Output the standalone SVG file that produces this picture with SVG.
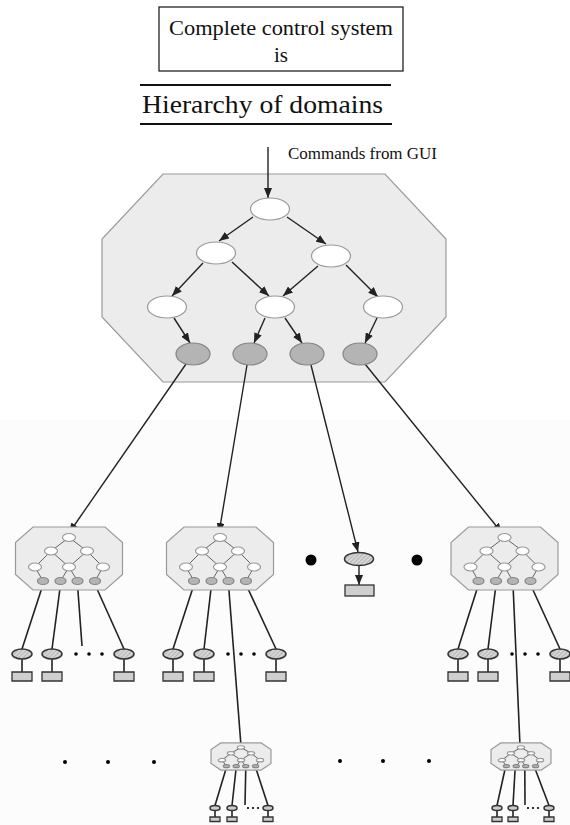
<svg xmlns="http://www.w3.org/2000/svg" xmlns:xlink="http://www.w3.org/1999/xlink" width="570" height="825" viewBox="0 0 570 825">
<style>
.t{font-family:"Liberation Serif","Times New Roman",serif;fill:#111}
.oct{fill:#ececec;stroke:#9a9a9a;stroke-width:1.2}
.wn{fill:#fff;stroke:#9a9a9a;stroke-width:1.2}
.gn{fill:#b4b4b4;stroke:#858585;stroke-width:1.2}
.ar{stroke:#222;stroke-width:1.4;fill:none;marker-end:url(#ah)}
.ln{stroke:#222;stroke-width:1.6;fill:none}
.il{stroke:#555;stroke-width:0.9;fill:none}
.hn{fill:url(#hatch);stroke:#333;stroke-width:1.5}
.bx{fill:#cfcfcf;stroke:#333;stroke-width:1.3}
.dot{fill:#000}
</style>
<defs>
<marker id="ah" markerUnits="userSpaceOnUse" markerWidth="10" markerHeight="8" refX="10" refY="4" orient="auto">
<path d="M0,0 L10,4 L0,8 z" fill="#222"/>
</marker>
<pattern id="hatch" patternUnits="userSpaceOnUse" width="3" height="3" patternTransform="rotate(45)">
<rect width="3" height="3" fill="#d6d6d6"/>
<line x1="0" y1="0" x2="0" y2="3" stroke="#9d9d9d" stroke-width="1.2"/>
</pattern>
<g id="sd">
<polygon class="oct" vector-effect="non-scaling-stroke" points="-36,-31.5 36,-31.5 53.5,-16 53.5,16 36,31.5 -36,31.5 -53.5,16 -53.5,-16"/>
<g class="il">
<line vector-effect="non-scaling-stroke" x1="0" y1="-21" x2="-18" y2="-7.5"/>
<line vector-effect="non-scaling-stroke" x1="0" y1="-21" x2="18" y2="-7.5"/>
<line vector-effect="non-scaling-stroke" x1="-18" y1="-7.5" x2="-34" y2="8.5"/>
<line vector-effect="non-scaling-stroke" x1="-18" y1="-7.5" x2="0" y2="8.5"/>
<line vector-effect="non-scaling-stroke" x1="18" y1="-7.5" x2="0" y2="8.5"/>
<line vector-effect="non-scaling-stroke" x1="18" y1="-7.5" x2="34" y2="8.5"/>
<line vector-effect="non-scaling-stroke" x1="-34" y1="8.5" x2="-26" y2="22.5"/>
<line vector-effect="non-scaling-stroke" x1="0" y1="8.5" x2="-8.5" y2="22.5"/>
<line vector-effect="non-scaling-stroke" x1="0" y1="8.5" x2="8.5" y2="22.5"/>
<line vector-effect="non-scaling-stroke" x1="34" y1="8.5" x2="26" y2="22.5"/>
</g>
<ellipse class="wn" vector-effect="non-scaling-stroke" cx="0" cy="-21" rx="6.5" ry="4"/>
<ellipse class="wn" vector-effect="non-scaling-stroke" cx="-18" cy="-7.5" rx="6.5" ry="4"/>
<ellipse class="wn" vector-effect="non-scaling-stroke" cx="18" cy="-7.5" rx="6.5" ry="4"/>
<ellipse class="wn" vector-effect="non-scaling-stroke" cx="-34" cy="8.5" rx="6.5" ry="4"/>
<ellipse class="wn" vector-effect="non-scaling-stroke" cx="0" cy="8.5" rx="6.5" ry="4"/>
<ellipse class="wn" vector-effect="non-scaling-stroke" cx="34" cy="8.5" rx="6.5" ry="4"/>
<ellipse class="gn" vector-effect="non-scaling-stroke" cx="-26" cy="22.5" rx="5.5" ry="3.5"/>
<ellipse class="gn" vector-effect="non-scaling-stroke" cx="-8.5" cy="22.5" rx="5.5" ry="3.5"/>
<ellipse class="gn" vector-effect="non-scaling-stroke" cx="8.5" cy="22.5" rx="5.5" ry="3.5"/>
<ellipse class="gn" vector-effect="non-scaling-stroke" cx="26" cy="22.5" rx="5.5" ry="3.5"/>
</g>
<g id="leaf">
<line class="ln" vector-effect="non-scaling-stroke" x1="0" y1="5" x2="0" y2="18"/>
<ellipse class="hn" vector-effect="non-scaling-stroke" cx="0" cy="0" rx="10" ry="5"/>
<rect class="bx" vector-effect="non-scaling-stroke" x="-10" y="18" width="20" height="9"/>
</g>
</defs>
<rect x="0" y="0" width="570" height="825" fill="#fff"/>
<rect x="0" y="420" width="570" height="405" fill="#fcfcfc"/>

<g id="title">
<rect x="159" y="7" width="244" height="64" fill="#fff" stroke="#222" stroke-width="1.3"/>
<text class="t" x="281" y="35" font-size="21" text-anchor="middle" textLength="224" lengthAdjust="spacingAndGlyphs">Complete control system</text>
<text class="t" x="281" y="62" font-size="21" text-anchor="middle">is</text>
</g>
<g id="heading">
<line x1="140" y1="85" x2="391" y2="85" stroke="#111" stroke-width="2"/>
<text class="t" x="142" y="113" font-size="26" textLength="241" lengthAdjust="spacingAndGlyphs">Hierarchy of domains</text>
<line x1="140" y1="124" x2="392" y2="124" stroke="#111" stroke-width="2"/>
</g>
<g id="gui-label">
<text class="t" x="288" y="159" font-size="16.5" textLength="149" lengthAdjust="spacingAndGlyphs">Commands from GUI</text>
</g>

<g id="main-domain">
<polygon class="oct" points="163,174 385,174 446,239 446,317 385,382 163,382 102,317 102,239"/>
</g>

<g id="connectors">
<line class="ar" x1="268" y1="147" x2="268" y2="198"/>
<line class="ar" x1="253" y1="217" x2="219" y2="241"/>
<line class="ar" x1="287" y1="217" x2="326" y2="244"/>
<line class="ar" x1="203" y1="263" x2="172" y2="296"/>
<line class="ar" x1="232" y1="262" x2="269" y2="296"/>
<line class="ar" x1="318" y1="266" x2="283" y2="296"/>
<line class="ar" x1="346" y1="265" x2="378" y2="297"/>
<line class="ar" x1="174" y1="318" x2="190" y2="343"/>
<line class="ar" x1="265" y1="318" x2="254" y2="343"/>
<line class="ar" x1="285" y1="318" x2="302" y2="343"/>
<line class="ar" x1="377" y1="318" x2="365" y2="343"/>
<line class="ar" x1="186" y1="364" x2="69" y2="533"/>
<line class="ar" x1="247" y1="365" x2="219" y2="533"/>
<line class="ar" x1="311" y1="365" x2="358" y2="552"/>
<line class="ar" x1="365" y1="364" x2="502" y2="533"/>
<line class="ar" x1="359" y1="566" x2="359" y2="585"/>
<line class="ln" x1="43" y1="584.5" x2="22" y2="649"/>
<line class="ln" x1="60.5" y1="584.5" x2="52" y2="649"/>
<line class="ln" x1="77.5" y1="584.5" x2="82" y2="646"/>
<line class="ln" x1="95" y1="584.5" x2="124" y2="649"/>
<line class="ln" x1="194" y1="584.5" x2="173" y2="649"/>
<line class="ln" x1="211.5" y1="584.5" x2="204" y2="649"/>
<line class="ln" x1="228.5" y1="584.5" x2="241" y2="746"/>
<line class="ln" x1="246" y1="584.5" x2="276" y2="649"/>
<line class="ln" x1="478.5" y1="584.5" x2="458" y2="649"/>
<line class="ln" x1="496" y1="584.5" x2="488" y2="649"/>
<line class="ln" x1="513" y1="584.5" x2="520" y2="746"/>
<line class="ln" x1="530.5" y1="584.5" x2="560" y2="649"/>
<line class="ln" x1="226.4" y1="767.5" x2="215" y2="805.5"/>
<line class="ln" x1="236.2" y1="767.5" x2="232" y2="805.5"/>
<line class="ln" x1="245.8" y1="767.5" x2="245" y2="805"/>
<line class="ln" x1="255.6" y1="767.5" x2="268" y2="805.5"/>
<line class="ln" x1="505.4" y1="767.5" x2="497" y2="805.5"/>
<line class="ln" x1="515.2" y1="767.5" x2="513" y2="805.5"/>
<line class="ln" x1="524.8" y1="767.5" x2="525" y2="805"/>
<line class="ln" x1="534.6" y1="767.5" x2="549" y2="805.5"/>
</g>

<g id="n-top"><ellipse class="wn" cx="270" cy="209" rx="19.5" ry="11"/></g>
<g id="n-l2a"><ellipse class="wn" cx="216" cy="253" rx="19.5" ry="11"/></g>
<g id="n-l2b"><ellipse class="wn" cx="331" cy="256" rx="19.5" ry="11"/></g>
<g id="n-l3a"><ellipse class="wn" cx="167" cy="307" rx="19.5" ry="11"/></g>
<g id="n-l3b"><ellipse class="wn" cx="275" cy="307" rx="19.5" ry="11"/></g>
<g id="n-l3c"><ellipse class="wn" cx="383" cy="307" rx="19.5" ry="11"/></g>
<g id="n-g1"><ellipse class="gn" cx="193" cy="354" rx="17" ry="11"/></g>
<g id="n-g2"><ellipse class="gn" cx="250" cy="354" rx="17" ry="11"/></g>
<g id="n-g3"><ellipse class="gn" cx="307" cy="354" rx="17" ry="11"/></g>
<g id="n-g4"><ellipse class="gn" cx="360" cy="354" rx="17" ry="11"/></g>

<g id="sub-domain-1"><use xlink:href="#sd" href="#sd" transform="translate(69,558.5)"/></g>
<g id="sub-domain-2"><use xlink:href="#sd" href="#sd" transform="translate(220,558.5)"/></g>
<g id="sub-domain-4"><use xlink:href="#sd" href="#sd" transform="translate(504.5,558.5)"/></g>
<g id="tiny-domain-1"><use xlink:href="#sd" href="#sd" transform="translate(241,756.5) scale(0.56,0.43)"/></g>
<g id="tiny-domain-2"><use xlink:href="#sd" href="#sd" transform="translate(521,756.5) scale(0.56,0.43)"/></g>

<g id="single-device">
<ellipse class="hn" cx="359" cy="559" rx="14.5" ry="6.5"/>
<rect class="bx" x="345" y="585" width="29" height="11"/>
</g>

<g id="leaves">
<use xlink:href="#leaf" href="#leaf" transform="translate(22,654)"/>
<use xlink:href="#leaf" href="#leaf" transform="translate(52,654)"/>
<use xlink:href="#leaf" href="#leaf" transform="translate(124,654)"/>
<use xlink:href="#leaf" href="#leaf" transform="translate(173,654)"/>
<use xlink:href="#leaf" href="#leaf" transform="translate(204,654)"/>
<use xlink:href="#leaf" href="#leaf" transform="translate(276,654)"/>
<use xlink:href="#leaf" href="#leaf" transform="translate(458,654)"/>
<use xlink:href="#leaf" href="#leaf" transform="translate(488,654)"/>
<use xlink:href="#leaf" href="#leaf" transform="translate(560,654)"/>
<use xlink:href="#leaf" href="#leaf" transform="translate(215,808) scale(0.5)"/>
<use xlink:href="#leaf" href="#leaf" transform="translate(232,808) scale(0.5)"/>
<use xlink:href="#leaf" href="#leaf" transform="translate(268,808) scale(0.5)"/>
<use xlink:href="#leaf" href="#leaf" transform="translate(497,808) scale(0.5)"/>
<use xlink:href="#leaf" href="#leaf" transform="translate(513,808) scale(0.5)"/>
<use xlink:href="#leaf" href="#leaf" transform="translate(549,808) scale(0.5)"/>
</g>

<g id="ellipsis-dots">
<circle class="dot" cx="311" cy="560" r="5.5"/>
<circle class="dot" cx="417" cy="560" r="5.5"/>
<circle class="dot" cx="76" cy="654" r="1.8"/>
<circle class="dot" cx="89" cy="654" r="1.8"/>
<circle class="dot" cx="102" cy="654" r="1.8"/>
<circle class="dot" cx="228" cy="654" r="1.8"/>
<circle class="dot" cx="241" cy="654" r="1.8"/>
<circle class="dot" cx="254" cy="654" r="1.8"/>
<circle class="dot" cx="512" cy="654" r="1.8"/>
<circle class="dot" cx="525" cy="654" r="1.8"/>
<circle class="dot" cx="538" cy="654" r="1.8"/>
<circle class="dot" cx="248" cy="808" r="1.1"/>
<circle class="dot" cx="253" cy="808" r="1.1"/>
<circle class="dot" cx="258" cy="808" r="1.1"/>
<circle class="dot" cx="528" cy="808" r="1.1"/>
<circle class="dot" cx="533" cy="808" r="1.1"/>
<circle class="dot" cx="538" cy="808" r="1.1"/>
<circle class="dot" cx="65" cy="762" r="2"/>
<circle class="dot" cx="108" cy="762" r="2"/>
<circle class="dot" cx="154" cy="762" r="2"/>
<circle class="dot" cx="340" cy="761" r="2"/>
<circle class="dot" cx="383" cy="761" r="2"/>
<circle class="dot" cx="429" cy="761" r="2"/>
</g>
</svg>
